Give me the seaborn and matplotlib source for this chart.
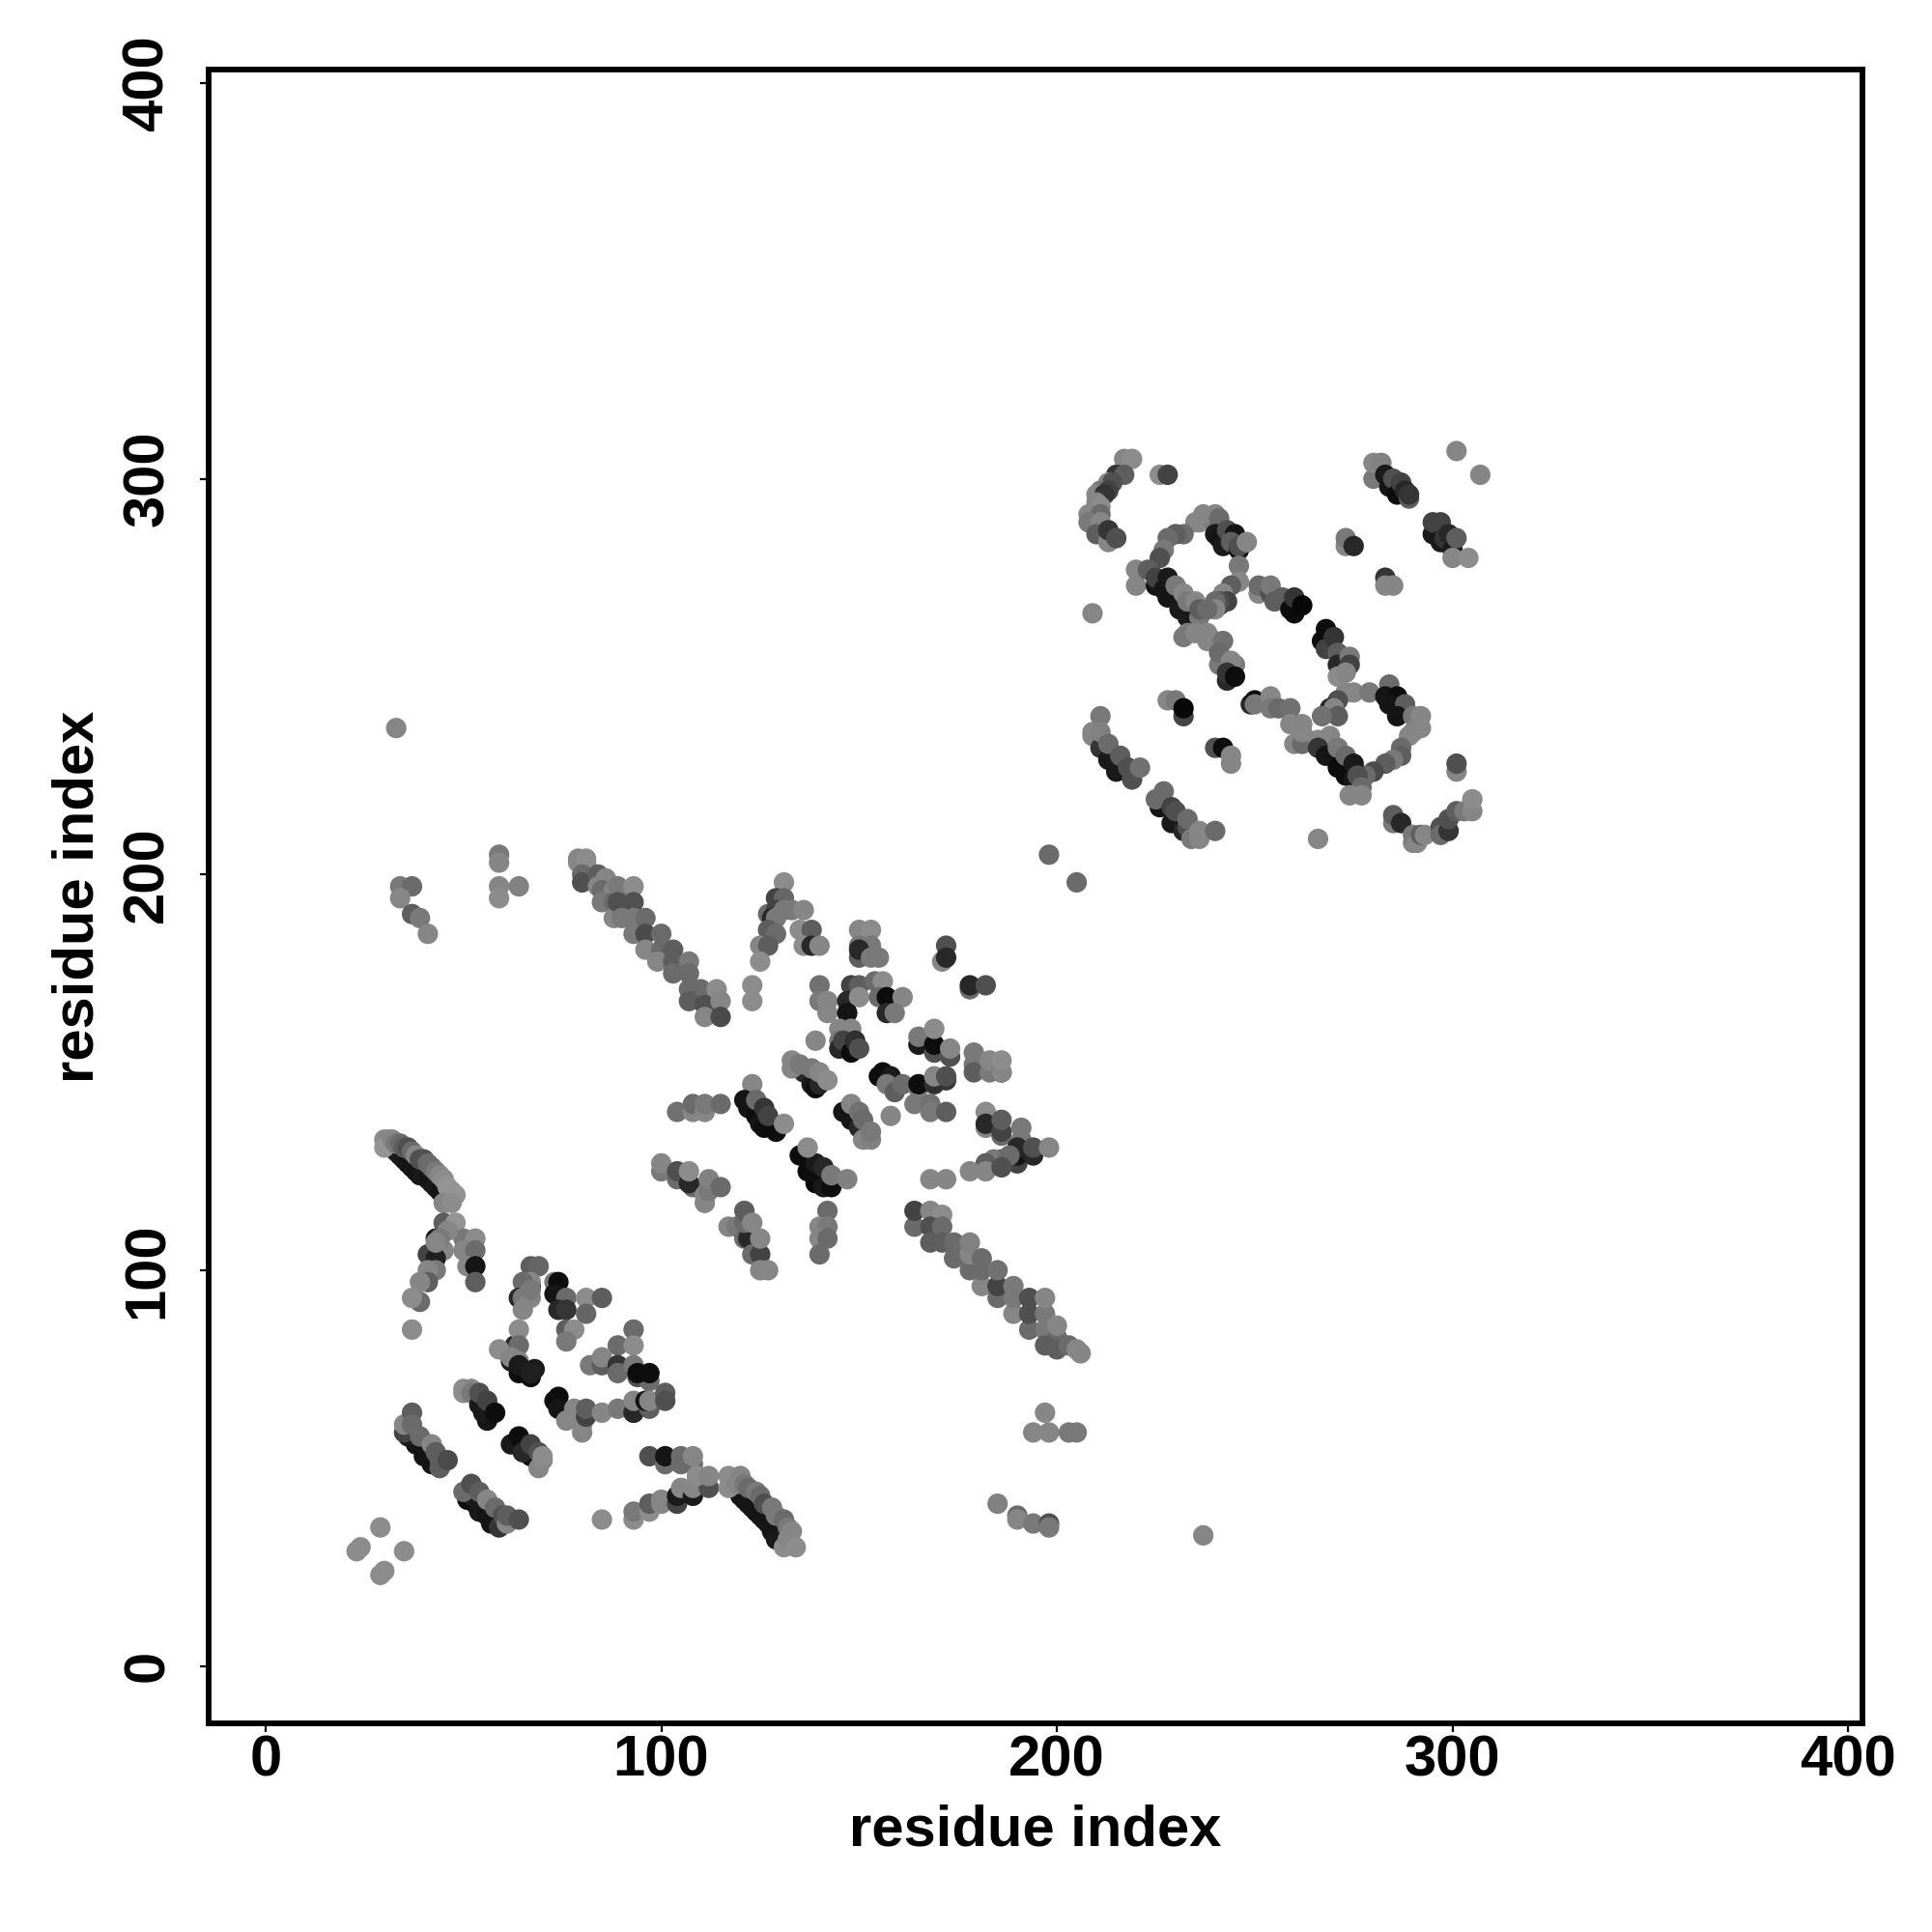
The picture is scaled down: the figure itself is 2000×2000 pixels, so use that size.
import matplotlib
matplotlib.use("Agg")
import matplotlib.pyplot as plt
import pandas as pd
import seaborn as sns

# Every contact is (residue i, residue j, gray level in percent).
corner_points = [(29,35,52),(23,29,52),(24,30,52),(35,29,52),(29,23,52),(30,24,52),(33,237,50),(34,197,45),(37,197,40),(34,194,50),(37,190,35),(39,189,45),(41,185,50),
 (59,205,45),(59,203,50),(59,197,50),(59,194,52),(64,197,48),(185,41,48),(190,38,40),(190,37,50),(194,36,45),(198,36,30),(198,35,45),(237,33,50),
 (197,64,50),(194,59,50),(198,59,50),(203,59,45),(205,59,45),(198,205,40),(205,198,40),(209,266,50),(266,209,50),(301,307,50),(307,301,50),(85,37,52)]

strand_a = [(32,131,15),(33,130,10),(34,129,10),(35,128,10),(36,127,8),(37,126,8),(38,125,8),(39,124,8),(40,124,10),(41,123,8),(42,122,8),(43,121,10),(44,120,8),
 (30,133,52),(31,133,50),(30,131,55),(32,133,50),(33,132,45),(34,132,40),(35,131,35),(36,131,30),(37,130,40),(38,129,50),(39,128,30),(40,128,30),(41,127,40),(42,126,40),(43,125,45),(44,124,50),(45,123,52),(46,121,55),(47,120,55),(47,118,52),(45,117,50),(48,119,55),(47,117,52)]

lambda_b = [(45,112,35),(48,112,55),(43,108,10),(50,108,45),(53,108,52),(50,105,50),(53,105,40),(51,101,50),(53,101,8),(53,97,35),(43,104,25),(41,104,25),(45,105,50),(43,103,12),(43,100,45),(41,100,50),(41,97,35),(39,97,50),(39,92,40),(37,93,52),(37,85,52),(46,110,50),(44,108,45),(43,107,50)]

cluster_c = [(67,101,35),(69,101,38),(67,96,8),(67,97,50),(65,97,40),(64,93,15),(65,93,45),(67,93,50),(65,90,50),(67,95,45),
 (73,97,45),(74,97,5),(73,94,8),(76,93,40),(74,90,15),(76,90,20),(81,93,52),(85,93,35),(81,89,38),(76,85,35),(78,85,52),(76,82,45),(93,85,40),(89,81,40),(93,81,52),
 (63,81,15),(64,85,52),(64,81,40),(59,80,52),(62,77,10),(62,78,50),(64,77,50),(64,74,5),(67,73,5),(64,76,10),(68,75,10),(67,74,12),
 (82,76,45),(85,76,35),(85,78,50),(89,76,20),(89,74,40),(93,76,45),(94,73,30),(97,72,40),(94,74,5),(97,74,5),
 (73,67,5),(74,68,5),(74,65,8),(76,62,50),(80,61,50),(80,59,50),(78,65,50),(78,64,50),(81,63,25),(81,65,35),(85,64,50),
 (89,65,45),(93,64,40),(93,64,15),(93,67,50),(97,65,35),(96,67,8),(97,67,50),(101,69,35),(101,67,30)]

strand_d = [(50,70,52),(52,70,50),(50,69,52),(52,69,45),(56,63,40),(56,62,8),(54,66,10),(55,64,10),(54,69,30),(56,67,25),(58,64,5)]

strand_e = [(38,56,8),(36,58,10),(40,53,8),(42,51,8),(35,59,25),(35,61,50),(37,64,35),(37,61,40),(39,58,40),(42,56,50),(44,50,35),(43,54,35),(44,52,35),(46,52,28)]

strand_f = [(62,56,10),(64,58,5),(67,53,5),(65,54,15),(67,56,25),(69,50,50),(69,54,30),(70,52,50),(70,53,52)]

strand_g = [(51,42,5),(53,41,5),(52,43,10),(54,39,10),(56,38,8),(57,36,8),(59,35,20),(50,44,40),(52,46,30),(54,44,35),(56,42,50),(58,40,40),(60,38,30),(61,36,50),(61,38,35),(64,37,30)]

strand_h = [(97,53,30),(101,51,40),(101,53,8),(105,51,40),(105,53,40),(108,51,40),(108,53,50)]

strand_i = [(93,37,52),(93,39,45),(97,39,52),(97,41,35),(100,41,50),(100,42,50),(104,41,25),(104,43,10),(105,45,50),(108,43,10),(108,45,50),(112,45,30),(109,48,52),(112,48,50)]

strand_j = [(120,43,8),(121,42,8),(122,41,8),(123,40,8),(124,39,8),(125,38,8),(126,37,8),(127,36,8),(128,34,8),(129,32,10),
 (117,45,52),(117,48,52),(120,48,50),(119,46,50),(121,46,45),(122,45,40),(124,44,45),(125,43,40),(126,41,30),(128,40,45),(129,38,45),(131,37,40),(132,35,45),(133,34,50),(131,30,52),(132,32,50),(134,30,52)]

strand_k = [(79,203,52),(81,203,52),(79,204,50),(81,204,52),(80,200,40),(80,198,30),(84,200,35),(86,199,50),(84,197,50),(85,196,40),(88,196,50),(91,196,45),(85,193,45),(88,193,40),(88,189,50),
 (89,197,45),(93,197,52),(89,193,30),(93,193,30),(90,189,45),(93,189,45),(96,189,40),(93,185,45),(96,185,28),(100,185,40),(96,181,50),(100,181,40),(103,181,35),(99,178,50),(103,178,35),(107,178,45),(103,175,40),(107,175,40),(107,171,40),(110,171,40),(114,171,52),(107,168,35),(111,167,30),(115,168,50),(111,164,50),(115,164,28),(123,172,52),(123,168,52)]

peak_l = [(131,198,52),(127,190,40),(129,194,25),(131,194,38),(129,191,25),(128,189,15),(129,189,45),(131,191,45),(133,191,45),(136,191,50),(127,186,35),(129,185,40),(125,182,50),(127,182,35),(125,178,52),
 (135,186,52),(138,186,35),(136,182,52),(138,182,15),(140,182,50)]

column_m = [(150,186,50),(153,186,52),(150,182,45),(153,182,45),(150,179,35),(150,181,15),(153,179,45),(155,179,45),(172,182,30),(171,178,50),(172,179,15),(178,171,40),(178,172,15),(182,172,30)]

center_n = [(140,172,42),(140,168,45),(142,168,50),(142,165,50),(148,172,25),(150,172,35),(147,168,15),(150,169,52),(147,165,8),(154,173,40),(156,173,52),(155,169,40),(157,169,5),(161,169,50),(157,165,15),(159,165,45),
 (139,158,50),(145,161,50),(148,161,50),(145,158,45),(145,156,15),(146,158,25),(148,155,5),(149,158,18),(150,156,30),
 (165,157,10),(165,159,45),(169,155,30),(169,157,5),(169,161,52),(173,154,30),(173,156,50),
 (179,155,45),(179,152,45),(179,150,35),(183,150,45),(183,153,50),(186,150,20),(186,150,50),(186,153,52)]

strand_o = [(136,150,15),(138,147,10),(139,146,5),(140,147,15),(133,153,50),(133,151,50),(135,152,45),(138,151,45),(140,150,50),(142,148,52),
 (156,150,5),(155,149,5),(158,149,10),(157,147,45),(159,145,35),(161,147,40),(165,146,45),(165,147,5),(169,147,18),(172,148,20),(169,149,50),(172,149,30),(164,142,45),(168,142,42),(168,140,45),(172,140,35),(158,139,50)]

strand_p = [(123,147,50),(121,143,8),(122,141,8),(124,139,5),(125,137,8),(126,136,5),(129,135,5),(124,143,40),(126,141,20),(127,139,25),(131,137,52),
 (104,140,42),(108,140,50),(108,142,40),(111,140,50),(111,142,45),(115,142,40),
 (146,140,8),(148,138,8),(150,136,15),(148,142,50),(150,140,42),(151,138,40),(151,133,50),(153,133,48),(153,135,45)]

arm_q = [(182,140,52),(182,136,50),(182,137,15),(186,134,40),(186,135,25),(186,138,35),(191,136,45),(191,133,45),(190,127,25),(190,129,8),(190,131,15),(194,129,15),(194,131,30),(198,131,50),(186,128,35),(184,128,45),(188,129,40),(182,127,35),(178,125,50),(182,125,50),(186,126,30),(168,123,50),(172,123,50)]

strand_r = [(135,129,5),(137,125,5),(139,122,5),(141,121,10),(143,121,5),(139,127,10),(141,126,15),(137,131,52),(143,124,45),(147,123,48),
 (100,125,45),(100,127,50),(104,123,40),(104,125,30),(108,121,40),(107,122,15),(107,125,52),(111,117,50),(111,119,50),(112,120,45),(112,123,48),(115,121,40),
 (117,111,50),(119,111,45),(121,108,40),(122,108,15),(121,112,40),(121,115,35),(123,112,50),(123,104,40),(125,104,25),(125,108,50),(125,100,50),(127,100,50),
 (142,115,40),(140,111,50),(142,111,45),(140,108,50),(142,108,40),(140,104,40)]

strand_s = [(164,111,40),(164,115,25),(168,115,50),(171,114,52),(168,111,30),(171,111,40),(168,107,35),(171,107,35),(174,103,40),(174,107,40),(178,100,40),(178,104,50),(178,107,48),(181,96,50),(181,100,40),(181,103,40),(185,93,40),(185,96,25),(185,100,42),(189,89,50),(189,93,45),(189,96,45),(193,85,40),(193,89,30),(193,93,30),(197,85,30),(197,85,45),(197,89,45),(197,93,50),(200,83,40),(200,86,50),(197,81,35),(200,80,35),(203,81,40),(205,80,50),(206,79,50)]

curve_t = [(217,305,50),(219,305,52),(215,301,20),(217,301,35),(213,299,50),(214,299,30),(211,297,45),(213,297,25),(210,296,50),(212,296,20),(210,294,50),(211,293,52),(208,291,50),(211,291,40),(208,289,45),(211,289,50),(210,286,35),(213,284,50),(213,287,20),(215,285,30),(226,301,52),(228,301,25)]

ring_u = [(235,289,50),(236,289,50),(239,290,45),(237,291,50),(240,291,50),(241,290,40),(240,286,10),(241,285,8),(242,283,10),(243,287,30),(245,286,8),(244,284,35),(246,282,8),(246,283,30),(248,284,50),(246,278,45),(246,274,50),(244,273,35),(242,271,50),(241,268,10),(243,269,25),(241,269,30),(240,269,40),(240,267,50),
 (232,286,40),(230,286,35),(228,285,40),(227,282,45),(226,280,30),(220,277,50),(220,273,50),(223,277,35),(225,273,8),(225,275,25),(227,272,8),(228,270,8),(228,275,10),(230,273,45),(231,267,10),(232,271,50),(233,265,10),(233,269,45),(235,269,50),(236,265,45),(236,267,35),(238,267,40)]

strand_v = [(232,260,45),(233,261,45),(235,261,50),(238,259,50),(238,261,50),(240,259,50),(242,259,42),(241,253,45),(241,256,40),(245,253,45),(244,254,50),(243,249,15),(243,251,20),(245,250,5),
 (251,271,50),(251,273,40),(254,271,30),(254,273,45),(255,269,35),(257,270,35),(259,267,5),(260,266,5),(260,270,20),(262,268,3),
 (268,262,5),(267,259,5),(268,257,25),(270,260,20),(271,256,35),(271,253,15),(274,255,45),(274,253,25),(271,250,52),(273,251,50)]

ring_w = [(249,243,15),(250,244,5),(250,243,45),(254,245,50),(254,242,45),(256,242,40),(259,242,42),(259,238,50),(260,233,50),(262,233,40),(262,236,50),(262,238,50),
 (273,246,50),(275,246,50),(279,246,45),(284,248,40),(271,244,30),(269,242,15),(270,242,50),(271,240,35),(267,240,42),(283,245,8),(286,245,5),(284,243,8),(288,243,35),(286,240,8),(290,240,45),(292,240,50),(292,237,50),(290,236,50),(289,235,50),(287,232,40),(287,230,35),(285,229,45),(283,228,35),(280,226,28),(278,225,40),
 (266,234,50),(269,235,50),(266,232,20),(268,230,8),(271,232,45),(271,227,5),(273,225,5),(273,230,40),(275,224,10),(275,228,10),(276,225,30),(277,222,40),(277,220,50),(274,220,50)]

lower_x = [(211,240,45),(209,236,50),(209,235,50),(211,232,20),(211,236,48),(213,229,10),(213,233,40),(215,226,10),(216,230,35),(219,224,30),(218,227,30),(221,227,42),
 (226,217,8),(225,219,40),(227,221,40),(229,213,10),(229,217,25),(230,216,30),(232,211,15),(233,212,30),(233,214,40),(234,209,45),(236,209,50),(236,211,50),(240,211,40),
 (228,244,50),(230,244,45),(232,240,25),(232,242,3),(240,232,30),(242,232,5),(244,228,50),(244,230,50)]

upper_y = [(280,300,45),(280,304,50),(282,304,48),(283,301,10),(284,298,8),(285,300,30),(286,296,5),(287,299,25),(288,297,15),(289,295,35),(289,296,20),
 (295,286,10),(295,289,25),(297,284,10),(297,289,25),(298,285,20),(299,286,15),(300,282,10),(301,285,35),(300,280,50),(304,280,52),
 (273,283,50),(273,285,45),(275,283,15),(283,275,20),(283,273,50),(285,273,50),(301,226,50),(301,228,30)]

curve_z = [(285,213,45),(285,215,35),(287,213,15),(290,208,50),(290,210,45),(291,208,50),(292,210,35),(293,210,50),(297,212,30),(297,210,40),(299,211,20),(299,214,30),(301,216,35),(303,216,45),(305,216,50),(305,219,52)]

axis_ticks = [0, 100, 200, 300, 400]
axis_title = "residue index"

groups = [corner_points, strand_a, lambda_b, cluster_c, strand_d, strand_e, strand_f, strand_g, strand_h,
          strand_i, strand_j, strand_k, peak_l, column_m, center_n, strand_o, strand_p, arm_q, strand_r,
          strand_s, curve_t, ring_u, strand_v, ring_w, lower_x, upper_y, curve_z]
df = pd.DataFrame([p for g in groups for p in g], columns=["i", "j", "gray"])

sns.set_theme(style="ticks", rc={"text.color": "black", "axes.labelcolor": "black",
                                 "xtick.color": "black", "ytick.color": "black",
                                 "axes.edgecolor": "black"})
plt.rcParams["font.family"] = ["Liberation Sans", "DejaVu Sans"]
plt.rcParams["font.weight"] = "bold"

fig = plt.figure(figsize=(10, 10), dpi=200)
ax = fig.add_axes([216/2000, 1 - 1784/2000, (1928-216)/2000, (1784-72)/2000])
sns.scatterplot(data=df, x="i", y="j", hue="gray", palette="gray", hue_norm=(0, 95),
                s=58, linewidth=0, alpha=1, legend=False, ax=ax, zorder=2)
ax.set_xlim(-14.4, 403.6)
ax.set_ylim(-14.5, 403.4)
ax.set_xticks(axis_ticks)
ax.set_yticks(axis_ticks)
ax.set_xticklabels([str(t) for t in axis_ticks], fontsize=21.5, fontweight="bold")
ax.set_yticklabels([str(t) for t in axis_ticks], fontsize=21.5, fontweight="bold",
                   rotation=90, va="center")
ax.tick_params(axis="x", length=3.2, width=0.8, color="black", pad=0.9)
ax.tick_params(axis="y", length=3.2, width=0.8, color="black", pad=9.5)
for s in ax.spines.values():
    s.set_linewidth(2.1)
    s.set_color("black")
ax.set_xlabel(axis_title, fontsize=21.5, fontweight="bold")
ax.set_ylabel(axis_title, fontsize=21.5, fontweight="bold")
ax.xaxis.set_label_coords(0.5, (1784-1895)/1712, transform=ax.transAxes)
ax.yaxis.set_label_coords((81-216)/1712, 0.5, transform=ax.transAxes)
ax.xaxis.label.set_va("center")
ax.yaxis.label.set_va("center")
fig.savefig("out.png", dpi=200, facecolor="white")
